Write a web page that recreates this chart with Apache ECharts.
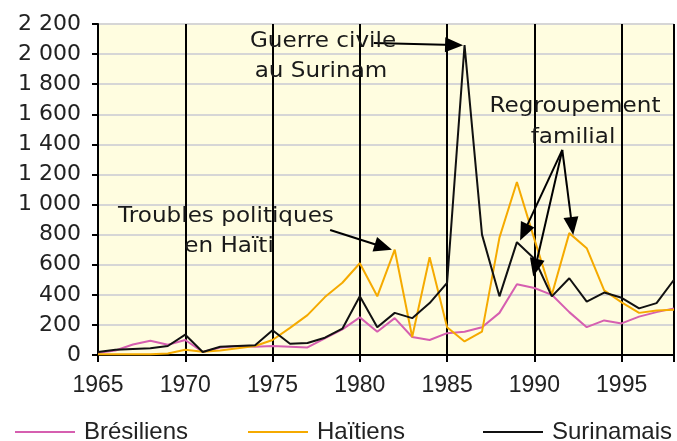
<!DOCTYPE html>
<html>
<head>
<meta charset="utf-8">
<script src="https://cdn.jsdelivr.net/npm/echarts@6/dist/echarts.min.js"></script>
<style>
  html, body { margin: 0; padding: 0; background: #ffffff; }
  #chart_1 { width: 677px; height: 441px; }
</style>
</head>
<body>
<div id="chart_1"></div>
<script>
// define data
const years = [1965, 1966, 1967, 1968, 1969, 1970, 1971, 1972, 1973, 1974,
    1975, 1976, 1977, 1978, 1979, 1980, 1981, 1982, 1983, 1984,
    1985, 1986, 1987, 1988, 1989, 1990, 1991, 1992, 1993, 1994,
    1995, 1996, 1997, 1998];

const bresiliens = [15, 30, 70, 95, 68, 100, 20, 50, 60, 55,
    60, 55, 50, 110, 170, 250, 155, 245, 120, 100,
    145, 155, 185, 280, 470, 445, 400, 285, 185, 230,
    210, 255, 285, 310];

const haitiens = [5, 5, 5, 5, 10, 35, 22, 30, 45, 60,
    100, 180, 265, 385, 480, 610, 390, 700, 120, 650,
    185, 90, 155, 780, 1150, 770, 400, 810, 710, 430,
    350, 280, 295, 300];

const surinamais = [20, 35, 40, 45, 60, 135, 20, 55, 60, 65,
    165, 75, 80, 115, 175, 390, 185, 280, 245, 345,
    480, 2060, 800, 390, 750, 640, 390, 510, 355, 415,
    380, 310, 345, 500];

const seriesNames = ['Brésiliens', 'Haïtiens', 'Surinamais'];
const seriesColors = ['#d65fb0', '#f5aa00', '#111111'];

// where each legend item starts (px from left)
const legendLeft = [10, 243, 478];

// annotation arrows, [start, arrowhead centre] in data coordinates (year, value)
const arrows = [
    [[1980.8, 2074], [1985.4, 2060]],
    [[1978.3, 831], [1981.35, 718]],
    [[1991.6, 1363], [1989.4, 815]],
    [[1991.6, 1363], [1990.05, 580]],
    [[1991.6, 1363], [1992.16, 857]]
];

// annotation texts: [text, x, y]
const notes = [
    ['Guerre civile', 323, 42],
    ['au Surinam', 321, 72],
    ['Troubles politiques', 226, 217],
    ['en Haïti', 229, 247],
    ['Regroupement', 575, 107],
    ['familial', 573, 138]
];

// format thousands with a space
const formatNumber = (v) => {
    if (v >= 1000) {
        const rest = String(v % 1000).padStart(3, '0');
        return Math.floor(v / 1000) + ' ' + rest;
    }
    return String(v);
};

const toPairs = (values) => years.map((y, i) => [y, values[i]]);

const chart = echarts.init(document.getElementById('chart_1'), null, { renderer: 'canvas' });

const lineSeries = (name, values, color) => ({
    name: name,
    type: 'line',
    data: toPairs(values),
    symbol: 'none',
    color: color,
    lineStyle: { color: color, width: 2 },
    emphasis: { disabled: true },
    animation: false
});

const series = [
    lineSeries(seriesNames[0], bresiliens, seriesColors[0]),
    lineSeries(seriesNames[1], haitiens, seriesColors[1]),
    lineSeries(seriesNames[2], surinamais, seriesColors[2])
];

// arrows go on top of the black series
series[2].markLine = {
    silent: true,
    animation: false,
    symbol: ['none', 'triangle'],
    symbolSize: [15, 18],
    label: { show: false },
    lineStyle: { color: '#000000', width: 2, type: 'solid' },
    emphasis: { disabled: true },
    data: arrows.map((a) => [
        { coord: a[0] },
        { coord: a[1] }
    ])
};

// one legend per item so each sits where the reference has it
const legends = seriesNames.map((name, i) => ({
    data: [name],
    left: legendLeft[i],
    top: 415,
    icon: 'rect',
    itemWidth: 60,
    itemHeight: 2,
    selectedMode: false,
    textStyle: {
        color: '#222222',
        fontFamily: '"Liberation Sans", sans-serif',
        fontSize: 24,
        padding: [0, 0, 0, 4]
    }
}));

const option = {
    backgroundColor: '#ffffff',
    animation: false,
    grid: {
        left: 98,
        right: 2,
        top: 24,
        bottom: 86,
        show: true,
        backgroundColor: '#fffde0',
        borderColor: '#cfcfcf',
        borderWidth: 1
    },
    xAxis: {
        type: 'value',
        min: 1965,
        max: 1998,
        interval: 5,
        axisLine: { show: true, lineStyle: { color: '#000000', width: 2 } },
        axisTick: { show: true, length: 7, lineStyle: { color: '#000000', width: 2 } },
        axisLabel: {
            margin: 19,
            color: '#222222',
            fontFamily: '"Liberation Sans Narrow", "Liberation Sans", sans-serif',
            fontSize: 23,
            formatter: (v) => (v % 5 === 0 ? String(v) : '')
        },
        splitLine: { show: true, lineStyle: { color: '#000000', width: 2 } }
    },
    yAxis: {
        type: 'value',
        min: 0,
        max: 2200,
        interval: 200,
        axisLine: { show: true, lineStyle: { color: '#000000', width: 2 } },
        axisTick: { show: true, length: 6, lineStyle: { color: '#000000', width: 2 } },
        axisLabel: {
            margin: 17,
            color: '#222222',
            fontFamily: '"DejaVu Sans", sans-serif',
            fontSize: 22,
            formatter: formatNumber
        },
        splitLine: { show: true, lineStyle: { color: '#d6d6d6', width: 2 } }
    },
    legend: legends,
    graphic: notes.map((n) => ({
        type: 'text',
        x: n[1],
        y: n[2],
        scaleX: 1.1,
        silent: true,
        z: 100,
        style: {
            text: n[0],
            fill: '#1a1a1a',
            font: '21px "DejaVu Sans", sans-serif',
            textAlign: 'center',
            textVerticalAlign: 'middle'
        }
    })),
    series: series
};

chart.setOption(option);
</script>
</body>
</html>
